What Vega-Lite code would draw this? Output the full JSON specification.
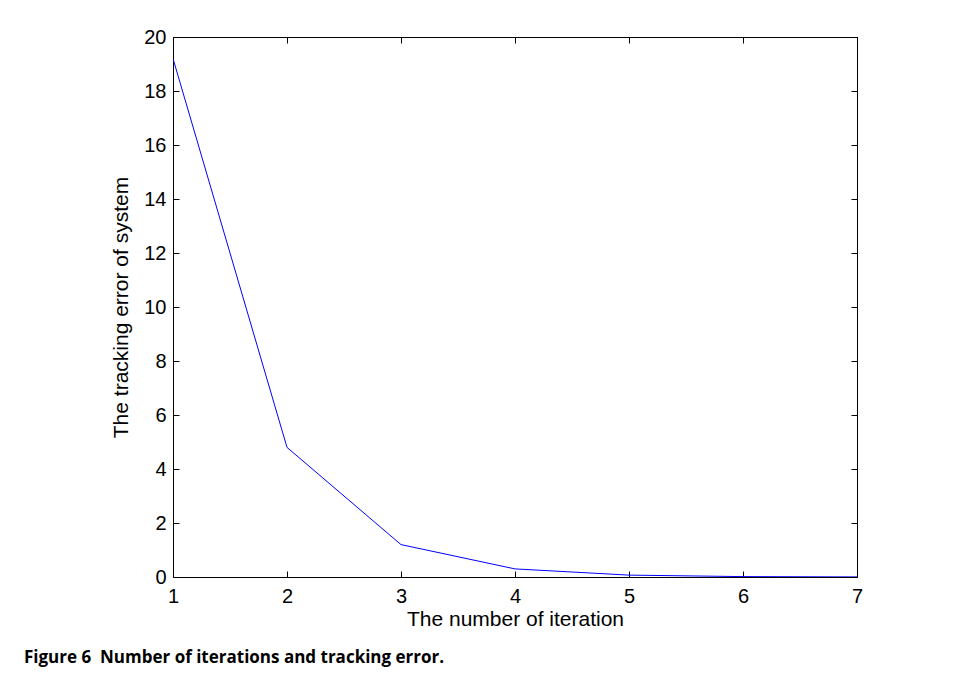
{
  "$schema": "https://vega.github.io/schema/vega-lite/v6.json",
  "width": 684,
  "height": 540,
  "autosize": {"type": "none"},
  "padding": {"left": 173, "top": 37, "right": 98, "bottom": 114},
  "background": "white",
  "title": {
    "text": "Figure 6\u00a0\u00a0Number of iterations and tracking error.",
    "orient": "bottom",
    "anchor": "start",
    "frame": "group",
    "dx": -149,
    "offset": 21,
    "font": "Open Sans",
    "fontWeight": "bold",
    "fontSize": 17,
    "color": "#000000"
  },
  "data": {
    "values": [
      {"iteration": 1, "error": 19.2},
      {"iteration": 2, "error": 4.8},
      {"iteration": 3, "error": 1.2},
      {"iteration": 4, "error": 0.3},
      {"iteration": 5, "error": 0.07},
      {"iteration": 6, "error": 0.015},
      {"iteration": 7, "error": 0.003}
    ]
  },
  "config": {
    "view": {"stroke": null}
  },
  "layer": [
    {
      "mark": {"type": "line", "color": "#0000ff", "strokeWidth": 1, "clip": true},
      "encoding": {
        "x": {
          "field": "iteration",
          "type": "quantitative",
          "scale": {"domain": [1, 7], "nice": false, "zero": false},
          "axis": {
            "title": "The number of iteration",
            "values": [1, 2, 3, 4, 5, 6, 7],
            "grid": false,
            "domainColor": "#000000",
            "tickColor": "#000000",
            "tickSize": -6,
            "labelFont": "Liberation Sans",
            "labelFontSize": 20,
            "labelColor": "#000000",
            "labelPadding": 15,
            "labelFlush": false,
            "titleFont": "Liberation Sans",
            "titleFontSize": 21,
            "titleFontWeight": "normal",
            "titleColor": "#000000",
            "titlePadding": 2
          }
        },
        "y": {
          "field": "error",
          "type": "quantitative",
          "scale": {"domain": [0, 20], "nice": false},
          "axis": {
            "title": "The tracking error of system",
            "values": [0, 2, 4, 6, 8, 10, 12, 14, 16, 18, 20],
            "grid": false,
            "domainColor": "#000000",
            "tickColor": "#000000",
            "tickSize": -6,
            "labelFont": "Liberation Sans",
            "labelFontSize": 20,
            "labelColor": "#000000",
            "labelPadding": 13,
            "labelFlush": false,
            "titleFont": "Liberation Sans",
            "titleFontSize": 21,
            "titleFontWeight": "normal",
            "titleColor": "#000000",
            "titlePadding": 12
          }
        }
      }
    },
    {
      "mark": {"type": "line", "color": "#0000ff", "strokeWidth": 1, "opacity": 0},
      "encoding": {
        "x": {
          "field": "iteration",
          "type": "quantitative",
          "axis": {"orient": "top", "title": null, "labels": false, "grid": false, "domainColor": "#000000", "tickColor": "#000000", "tickSize": -6, "values": [1, 2, 3, 4, 5, 6, 7]}
        },
        "y": {
          "field": "error",
          "type": "quantitative",
          "axis": {"orient": "right", "title": null, "labels": false, "grid": false, "domainColor": "#000000", "tickColor": "#000000", "tickSize": -6, "values": [0, 2, 4, 6, 8, 10, 12, 14, 16, 18, 20]}
        }
      }
    }
  ],
  "resolve": {"axis": {"x": "independent", "y": "independent"}}
}
